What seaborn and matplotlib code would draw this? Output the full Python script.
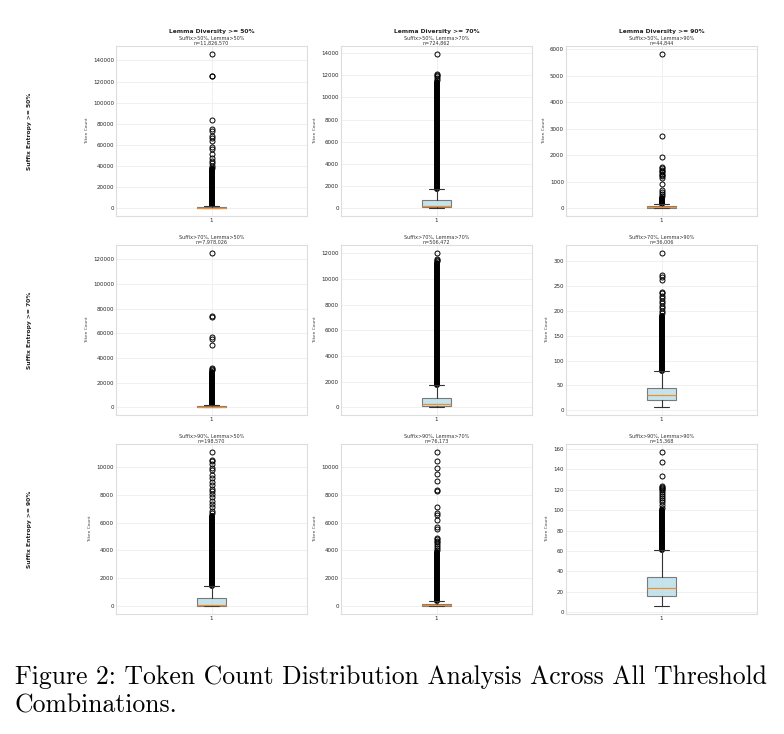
import numpy as np
import matplotlib
matplotlib.use("Agg")
import matplotlib.pyplot as plt
import seaborn as sns

sns.set_theme(style="whitegrid")
plt.rcParams['font.family'] = ['DejaVu Sans']

# ---------------- data ----------------
suffix_levels = [50, 70, 90]
lemma_levels = [50, 70, 90]
n_counts = [
    ["11,826,570", "724,862", "44,844"],
    ["7,978,026", "506,472", "36,006"],
    ["198,570", "76,173", "15,368"],
]
# box statistics per panel: whislo, q1, median, q3, whishi
whislo = [[1, 1, 1], [1, 1, 6], [1, 1, 6]]
q1 = [[60, 90, 20], [60, 80, 21.6], [50, 25, 16.3]]
median = [[250, 200, 40], [250, 230, 30.3], [100, 60, 23.8]]
q3 = [[800, 750, 70], [800, 730, 43.8], [600, 170, 34.3]]
whishi = [[1800, 1720, 150], [1800, 1720, 78.2], [1440, 380, 61.4]]
# dense (overlapping) outlier band just above the upper whisker: top value
dense_top = [[37000, 11400, 400], [29000, 11200, 190], [6500, 3900, 100]]
# individually visible outliers
fliers = [
    [
        [38000, 40400, 42700, 44900, 47400, 51000, 56000, 57800, 64000, 66400, 68600,
         73600, 75000, 83400, 125000, 125600, 146300],
        [11600, 11750, 11900, 12050, 12130, 13950],
        [460, 550, 620, 700, 918, 1150, 1200, 1250, 1300, 1350, 1400, 1450, 1500,
         1550, 1937, 2742, 5824],
    ],
    [
        [30000, 31000, 32000, 50800, 55500, 57300, 73500, 74400, 125400],
        [11350, 11450, 11580, 12030],
        [195, 200, 205, 210, 215, 220, 225, 230, 235, 238, 263, 268, 272, 317],
    ],
    [
        [6690, 6860, 7100, 7310, 7580, 7820, 8060, 8300, 8420, 8700, 8900, 9210,
         9420, 9740, 9930, 10170, 10380, 10500, 11080],
        [4050, 4200, 4350, 4500, 4600, 4700, 4800, 4900, 5540, 5660, 6210, 6570,
         6670, 7150, 8270, 8370, 8950, 9500, 9900, 10380, 11080],
        [102, 105, 108, 110, 112, 114, 116, 118, 120, 121, 122, 123, 124, 133, 147, 157],
    ],
]

# ---------------- figure ----------------
W, H = 784, 734
fig = plt.figure(figsize=(W / 100, H / 100), dpi=100)

col_left = [116, 341, 566]
row_top = [46, 245, 444]
ax_w, ax_h = 191, 170

box_face = (173 / 255, 216 / 255, 230 / 255, 0.7)
ms = 3.6
mew = 0.7

for r in range(3):
    for c in range(3):
        ax = fig.add_axes([col_left[c] / W, 1 - (row_top[r] + ax_h) / H, ax_w / W, ax_h / H])
        stats = [dict(whislo=whislo[r][c], q1=q1[r][c], med=median[r][c], q3=q3[r][c],
                      whishi=whishi[r][c], fliers=np.array(fliers[r][c]), label="1")]
        ax.bxp(stats, positions=[1], widths=0.15, patch_artist=True,
               boxprops=dict(facecolor=box_face, edgecolor="#7a7a7a", linewidth=0.8),
               whiskerprops=dict(color="#333333", linewidth=0.8),
               capprops=dict(color="#333333", linewidth=0.8),
               medianprops=dict(color="#f28e2b", linewidth=0.9),
               flierprops=dict(marker="o", markerfacecolor="none", markeredgecolor="black",
                               markersize=ms, markeredgewidth=mew))
        # dense band of overlapping outliers
        ax.vlines([1], [whishi[r][c]], [dense_top[r][c]], colors="black",
                  linewidth=ms + mew, zorder=1.5, capstyle="round")
        ax.set_xlim(0.5, 1.5)
        ax.tick_params(axis="both", labelsize=4, pad=1.5, length=0)
        ax.set_ylabel("Token Count", fontsize=3.2, labelpad=3, color="#444444")
        ax.grid(True, color="#eeeeee", linewidth=0.6)
        for s in ax.spines.values():
            s.set_color("#dddddd")
            s.set_linewidth(0.8)
        ax.set_title(f"Suffix>{suffix_levels[r]}%, Lemma>{lemma_levels[c]}%\nn={n_counts[r][c]}",
                     fontsize=3.5, pad=0.8, color="#333333", linespacing=1.1)
        if r == 0:
            ax.text(0.5, 1.068, f"Lemma Diversity >= {lemma_levels[c]}%", transform=ax.transAxes,
                    ha="center", va="bottom", fontsize=4.3, fontweight="bold", color="#222222")
        if c == 0:
            yc = row_top[r] + ax_h / 2
            fig.text(30 / W, 1 - yc / H, f"Suffix Entropy >= {suffix_levels[r]}%", rotation=90,
                     ha="center", va="center", fontsize=4.3, fontweight="bold", color="#222222")

fig.text(15 / W, 1 - 677 / H, "Figure 2: Token Count Distribution Analysis Across All Threshold",
         fontsize=18.5, family="cmr10", ha="left", va="center", color="black")
fig.text(15 / W, 1 - 706 / H, "Combinations.",
         fontsize=18.5, family="cmr10", ha="left", va="center", color="black")

fig.savefig("out.png", dpi=100)
